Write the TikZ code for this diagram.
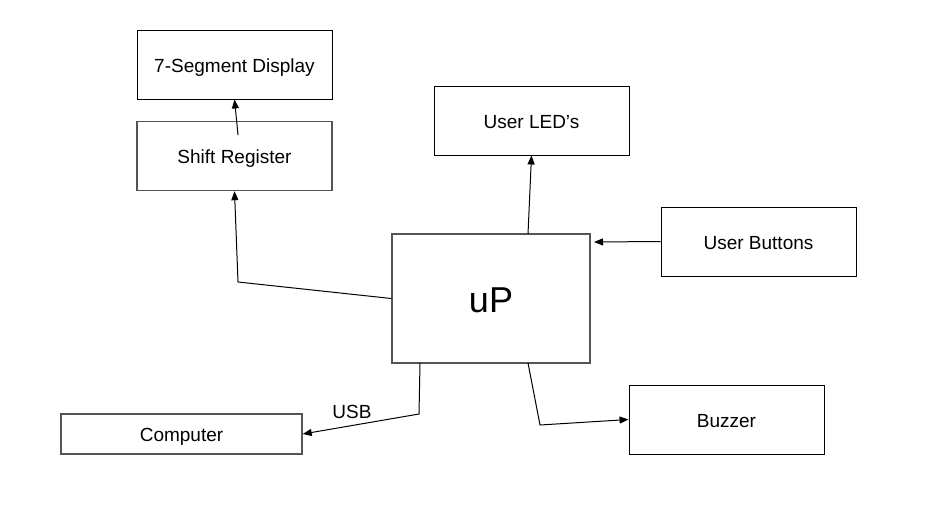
\documentclass[tikz,border=0pt]{standalone}
\usepackage{fontspec}
\setmainfont{Liberation Sans}
\usetikzlibrary{ arrows.meta, % For the filled arrow tips
                 positioning,
               }
\definecolor{boxgray}{HTML}{555555}
\tikzstyle{block} = [rectangle, draw=black, line width=0.9pt, minimum width=195pt, minimum height=69pt, inner sep=0pt, text height=15pt, text depth=0pt, text centered, font=\fontsize{19}{22}\selectfont]
\tikzstyle{block_gray} = [block, draw=boxgray, line width=1.4pt]
\tikzstyle{wire} = [-{Triangle[length=9pt,width=7pt]}, line width=1pt]

\begin{document}
\begin{tikzpicture}[x=1pt, y=-1pt]
  \useasboundingbox (0, 0) rectangle (928, 506);
  \node (seg) [block] at (234.5, 64.5) {7-Segment Display};
  \node (shift) [block_gray] at (234.5, 156) {Shift Register};
  \node (leds) [block] at (531.5, 120.5) {User LED’s};
  \node (buttons) [block] at (758.5, 241.5) {User Buttons};
  \node (up) [block_gray, minimum width=198pt, minimum height=129pt, text height=27pt, font=\fontsize{36}{40}\selectfont] at (491, 298.5) {uP};
  \node (buzzer) [block] at (726.5, 419.5) {Buzzer};
  \node (computer) [block_gray, minimum width=241pt, minimum height=40pt] at (181.5, 434) {Computer};
  % bend points and free ends
  \coordinate (sr_out) at (238, 135);
  \coordinate (sr_bend) at (238, 282);
  \coordinate (led_out) at (528, 234);
  \coordinate (btn_in) at (594, 242);
  \coordinate (usb_out) at (420, 363);
  \coordinate (usb_bend) at (419, 414);
  \coordinate (buz_out) at (528, 363);
  \coordinate (buz_bend) at (540, 425);
  \draw [wire] (sr_out) -- (seg.south);
  \draw [wire] (up.west) -- (sr_bend) -- (shift.south);
  \draw [wire] (led_out) -- (leds.south);
  \draw [wire] (buttons.west) -- (btn_in);
  \draw [wire] (usb_out) -- (usb_bend) -- (computer.east);
  \draw [wire] (buz_out) -- (buz_bend) -- (buzzer.west);
  \node (usb) [font=\fontsize{19}{22}\selectfont] at (352, 412) {USB};
\end{tikzpicture}
\end{document}
